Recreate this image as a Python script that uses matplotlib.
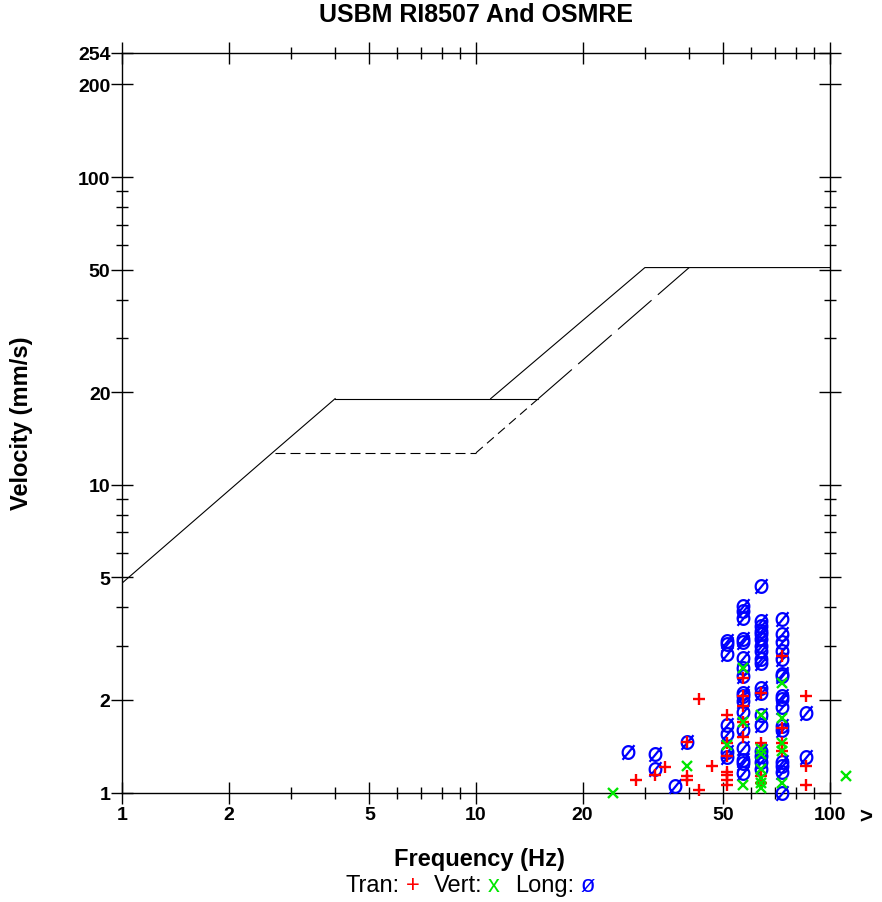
import numpy as np
import matplotlib
matplotlib.use("Agg")
import matplotlib.pyplot as plt
from matplotlib.path import Path
from matplotlib.ticker import FixedLocator, NullFormatter, FixedFormatter

plt.rcParams['font.family'] = ['Liberation Sans', 'DejaVu Sans']
plt.rcParams['lines.scale_dashes'] = False

# ---------------- data ----------------
x_major = [1, 2, 5, 10, 20, 50, 100]
x_minor = [3, 4, 6, 7, 8, 9, 30, 40, 60, 70, 80, 90]
y_major = [1, 2, 5, 10, 20, 50, 100, 200, 254]
y_minor = [3, 4, 6, 7, 8, 9, 30, 40, 60, 70, 80, 90]

# USBM RI8507 / OSMRE limit curves (Hz, mm/s)
common_f = [1.0, 2.7, 4.0]
common_v = [4.79, 12.9, 19.05]
drywall_f = [4.0, 15.0]
drywall_v = [19.05, 19.05]
osmre_f = [11.0, 30.0, 100.0]
osmre_v = [19.05, 50.8, 50.8]
plaster_flat_f = [2.7, 10.0]
plaster_flat_v = [12.7, 12.7]
plaster_rise_f = [10.0, 15.0]
plaster_rise_v = [12.7, 19.05]
usbm_rise_f = [15.0, 40.0]
usbm_rise_v = [19.05, 50.8]

# Transverse (red +)
tran_f = [28.4, 32.0, 34.1, 39.4, 39.4, 39.4, 42.7, 42.7, 46.5,
          51.2, 51.2, 51.2, 51.2, 51.2, 51.2, 51.2,
          56.9, 56.9, 56.9, 56.9, 56.9,
          64.0, 64.0, 64.0, 64.0,
          73.1, 73.1, 73.1, 73.1,
          85.3, 85.3, 85.3]
tran_v = [1.10, 1.14, 1.21, 1.46, 1.13, 1.10, 1.02, 2.02, 1.22,
          1.78, 1.45, 1.31, 1.17, 1.14, 1.10, 1.06,
          2.36, 2.06, 1.91, 1.70, 1.51,
          2.11, 1.45, 1.13, 1.075,
          2.78, 1.62, 1.45, 1.36,
          2.06, 1.22, 1.06]

# Vertical (green x)
vert_f = [24.4, 39.4, 51.2,
          56.9, 56.9, 56.9,
          64.0, 64.0, 64.0, 64.0, 64.0, 64.0, 64.0,
          73.1, 73.1, 73.1, 73.1, 73.1,
          111.0]
vert_v = [1.0, 1.22, 1.43,
          2.54, 1.69, 1.06,
          1.79, 1.38, 1.33, 1.19, 1.116, 1.075, 1.036,
          2.27, 1.75, 1.45, 1.36, 1.075,
          1.13]

# Longitudinal (blue ø)
long_f = [26.9, 32.0, 32.0, 36.6, 39.4,
          51.2, 51.2, 51.2, 51.2, 51.2, 51.2, 51.2,
          56.9, 56.9, 56.9, 56.9, 56.9, 56.9, 56.9, 56.9, 56.9, 56.9,
          56.9, 56.9, 56.9, 56.9, 56.9, 56.9, 56.9,
          64.0, 64.0, 64.0, 64.0, 64.0, 64.0, 64.0, 64.0, 64.0,
          64.0, 64.0, 64.0, 64.0, 64.0, 64.0, 64.0, 64.0, 64.0,
          73.1, 73.1, 73.1, 73.1, 73.1, 73.1, 73.1, 73.1,
          73.1, 73.1, 73.1, 73.1, 73.1, 73.1, 73.1, 73.1,
          85.3, 85.3]
long_v = [1.35, 1.33, 1.19, 1.05, 1.46,
          3.10, 3.03, 2.81, 1.66, 1.555, 1.352, 1.306,
          4.03, 3.89, 3.70, 3.15, 3.08, 2.74, 2.54, 2.39, 2.11, 2.06,
          1.98, 1.82, 1.60, 1.40, 1.28, 1.25, 1.16,
          4.69, 3.61, 3.48, 3.35, 3.27, 3.15, 2.99, 2.88, 2.71,
          2.64, 2.19, 2.11, 1.79, 1.66, 1.36, 1.31, 1.26, 1.19,
          3.67, 3.28, 3.08, 2.88, 2.71, 2.42, 2.39, 2.06,
          2.01, 1.89, 1.64, 1.60, 1.26, 1.22, 1.17, 1.00,
          1.81, 1.30]

# ---------------- figure ----------------
W, H = 882, 903
fig = plt.figure(figsize=(W / 100, H / 100), dpi=100)
ax = fig.add_axes([122 / W, 1 - 793.5 / H, (830 - 122) / W, (793.5 - 53.5) / H])
ax.set_xscale('log')
ax.set_yscale('log')
ax.set_xlim(1, 100)
ax.set_ylim(1, 254)

lw = 0.8
ax.plot(common_f, common_v, color='black', lw=lw)
ax.plot(drywall_f, drywall_v, color='black', lw=lw)
ax.plot(osmre_f, osmre_v, color='black', lw=lw)
ax.plot(plaster_flat_f, plaster_flat_v, color='black', lw=lw, dashes=(7.2, 3.6))
ax.plot(plaster_rise_f, plaster_rise_v, color='black', lw=lw, dashes=(6.5, 4.0))
ax.plot(usbm_rise_f, usbm_rise_v, color='black', lw=lw, dashes=(32, 6))

# ø marker path
t = np.linspace(0, 2 * np.pi, 48)
ell = np.column_stack([0.44 * np.cos(t), 0.48 * np.sin(t)])
verts = list(ell) + [(0, 0), (-0.45, -0.55), (0.45, 0.55)]
codes = [Path.MOVETO] + [Path.LINETO] * (len(ell) - 1) + [Path.CLOSEPOLY, Path.MOVETO, Path.LINETO]
oslash = Path(verts, codes)

GREEN = '#00e600'
ax.plot(long_f, long_v, linestyle='none', marker=oslash, ms=10.5, mfc='none',
        mec='#0000ff', mew=1.6, clip_on=False, zorder=3)
ax.plot(tran_f, tran_v, linestyle='none', marker='+', ms=9, mec='#ff0000',
        mew=1.7, clip_on=False, zorder=4)
ax.plot(vert_f, vert_v, linestyle='none', marker='x', ms=7.5, mec=GREEN,
        mew=1.7, clip_on=False, zorder=4)

# ticks
ax.xaxis.set_major_locator(FixedLocator(x_major))
ax.xaxis.set_major_formatter(FixedFormatter([str(v) for v in x_major]))
ax.xaxis.set_minor_locator(FixedLocator(x_minor))
ax.xaxis.set_minor_formatter(NullFormatter())
ax.yaxis.set_major_locator(FixedLocator(y_major))
ax.yaxis.set_major_formatter(FixedFormatter([str(v) for v in y_major]))
ax.yaxis.set_minor_locator(FixedLocator(y_minor))
ax.yaxis.set_minor_formatter(NullFormatter())

ax.tick_params(which='both', direction='inout', top=True, right=True,
               color='black', width=1.0)
ax.tick_params(which='major', length=16, labelsize=14)
ax.tick_params(which='minor', length=8.5)
ax.tick_params(axis='y', which='major', pad=0.3)
ax.tick_params(axis='x', which='major', pad=1.5)
for lab in ax.get_xticklabels() + ax.get_yticklabels():
    lab.set_fontweight('bold')
for s in ax.spines.values():
    s.set_linewidth(1.0)

# texts
fig.text(476 / W, 1 - 15 / H, 'USBM RI8507 And OSMRE', ha='center', va='center',
         fontsize=18, fontweight='bold')
fig.text(479 / W, 1 - 860 / H, 'Frequency (Hz)', ha='center', va='center',
         fontsize=17, fontweight='bold')
fig.text(22 / W, 1 - 423 / H, 'Velocity (mm/s)', ha='center', va='center',
         fontsize=17, fontweight='bold', rotation=90)
fig.text(866 / W, 1 - 818 / H, '>', ha='center', va='center',
         fontsize=16, fontweight='bold')

# legend line: text pieces laid out left to right
leg_text = ['Tran:', '+', 'Vert:', 'x', 'Long:', 'ø']
leg_color = ['black', '#ff0000', 'black', GREEN, 'black', '#0000ff']
leg_left = [345, 406, 434, 488, 515, 581]
for txt, col, xl in zip(leg_text, leg_color, leg_left):
    fig.text(xl / W, 1 - 886 / H, txt, ha='left', va='center',
             fontsize=17, color=col)

fig.savefig('out.png', dpi=100)
